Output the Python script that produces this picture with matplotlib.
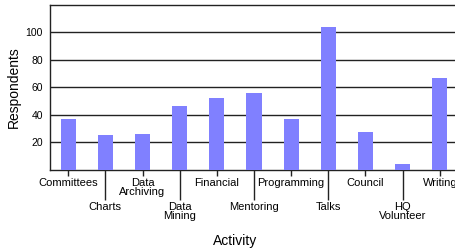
import matplotlib.pyplot as plt

plt.rcParams['font.family'] = ['Liberation Sans', 'DejaVu Sans']

# Data
activities = ["Committees", "Charts", "Data\nArchiving", "Data\nMining", "Financial",
              "Mentoring", "Programming", "Talks", "Council", "HQ\nVolunteer", "Writing"]
respondents = [37, 25, 26, 46, 52, 56, 37, 104, 27, 4, 67]
y_ticks = [20, 40, 60, 80, 100]

fig = plt.figure(figsize=(4.55, 2.52), dpi=100)
ax = fig.add_axes([50 / 455, 82.5 / 252, 408 / 455, 164.5 / 252])

x = list(range(len(activities)))
ax.bar(x, respondents, width=0.41, color='#8080ff', zorder=3)

ax.set_xlim(-0.49, len(activities) - 0.51)
ax.set_ylim(0, 120)

# alternate labels between two rows: short ticks (major) and long ticks (minor)
even = x[0::2]
odd = x[1::2]
ax.set_xticks(even, [activities[i] for i in even])
ax.set_xticks(odd, [activities[i] for i in odd], minor=True)
ax.tick_params(axis='x', which='major', length=4.3, width=1, color='#222222',
               pad=2, labelsize=8)
ax.tick_params(axis='x', which='minor', length=21.5, width=1, color='#222222',
               pad=2, labelsize=8)
for lab in ax.get_xticklabels(which='both'):
    lab.set_linespacing(0.85)

ax.set_yticks(y_ticks)
ax.tick_params(axis='y', length=0, pad=5, labelsize=7.5)
ax.grid(axis='y', color='#222222', linewidth=1, zorder=1)

for side in ['left', 'bottom', 'top']:
    ax.spines[side].set_color('#222222')
    ax.spines[side].set_linewidth(1)
ax.spines['right'].set_visible(False)

fig.text(14 / 455, 1 - 87 / 252, "Respondents", rotation=90, ha='center', va='center', fontsize=10)
fig.text(235 / 455, 1 - 241 / 252, "Activity", ha='center', va='center', fontsize=10)

fig.savefig("out.png", dpi=100)
